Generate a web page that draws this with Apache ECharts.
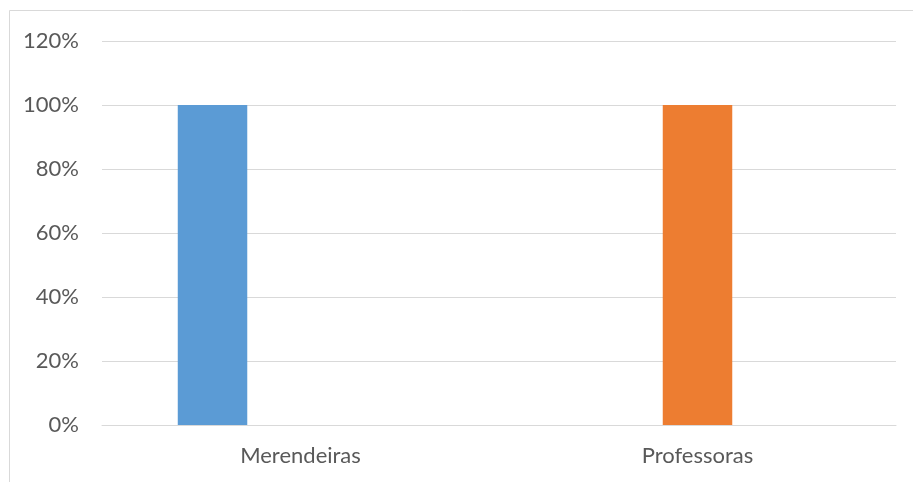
<!DOCTYPE html>
<html>
<head>
<meta charset="utf-8">
<script src="https://cdn.jsdelivr.net/npm/echarts@6/dist/echarts.min.js"></script>
<style>html,body{margin:0;padding:0;background:#fff}#c{width:913px;height:482px}</style>
</head>
<body>
<div id="c"></div>
<script>
const categories = ['Merendeiras', 'Professoras'];
const merendeiras = [1.0, null];
const professoras = [null, 1.0];
const extra = [null, null];
const yTicks = [0, 0.2, 0.4, 0.6, 0.8, 1.0, 1.2];

const chart = echarts.init(document.getElementById('c'));
const font = 'Lato, "Open Sans", sans-serif';
chart.setOption({
  animation: false,
  backgroundColor: '#fff',
  graphic: [{
    type: 'rect', silent: true,
    shape: { x: 9.5, y: 10.5, width: 920, height: 500 },
    style: { fill: 'none', stroke: '#d9d9d9', lineWidth: 1 }
  }],
  grid: { left: 102, right: 17, top: 41, bottom: 57 },
  xAxis: {
    type: 'category', data: categories,
    axisLine: { lineStyle: { color: '#d9d9d9', width: 1 } },
    axisTick: { show: false },
    axisLabel: { color: '#595959', fontSize: 22, fontFamily: font, margin: 20 }
  },
  yAxis: {
    type: 'value', min: yTicks[0], max: yTicks[yTicks.length - 1], interval: 0.2,
    axisLine: { show: false }, axisTick: { show: false },
    splitLine: { lineStyle: { color: '#d9d9d9', width: 1 } },
    axisLabel: { color: '#595959', fontSize: 22, fontFamily: font, margin: 23,
      formatter: v => Math.round(v * 100) + '%' }
  },
  series: [
    { name: 'Merendeiras', type: 'bar', data: merendeiras, barWidth: 69.5, barGap: '26.6%', itemStyle: { color: '#5b9bd5' } },
    { name: 'Professoras', type: 'bar', data: professoras, barWidth: 69.5, barGap: '26.6%', itemStyle: { color: '#ed7d31' } },
    { name: 'Extra', type: 'bar', data: extra, barWidth: 69.5, barGap: '26.6%', itemStyle: { color: '#a5a5a5' } }
  ]
});
</script>
</body>
</html>
